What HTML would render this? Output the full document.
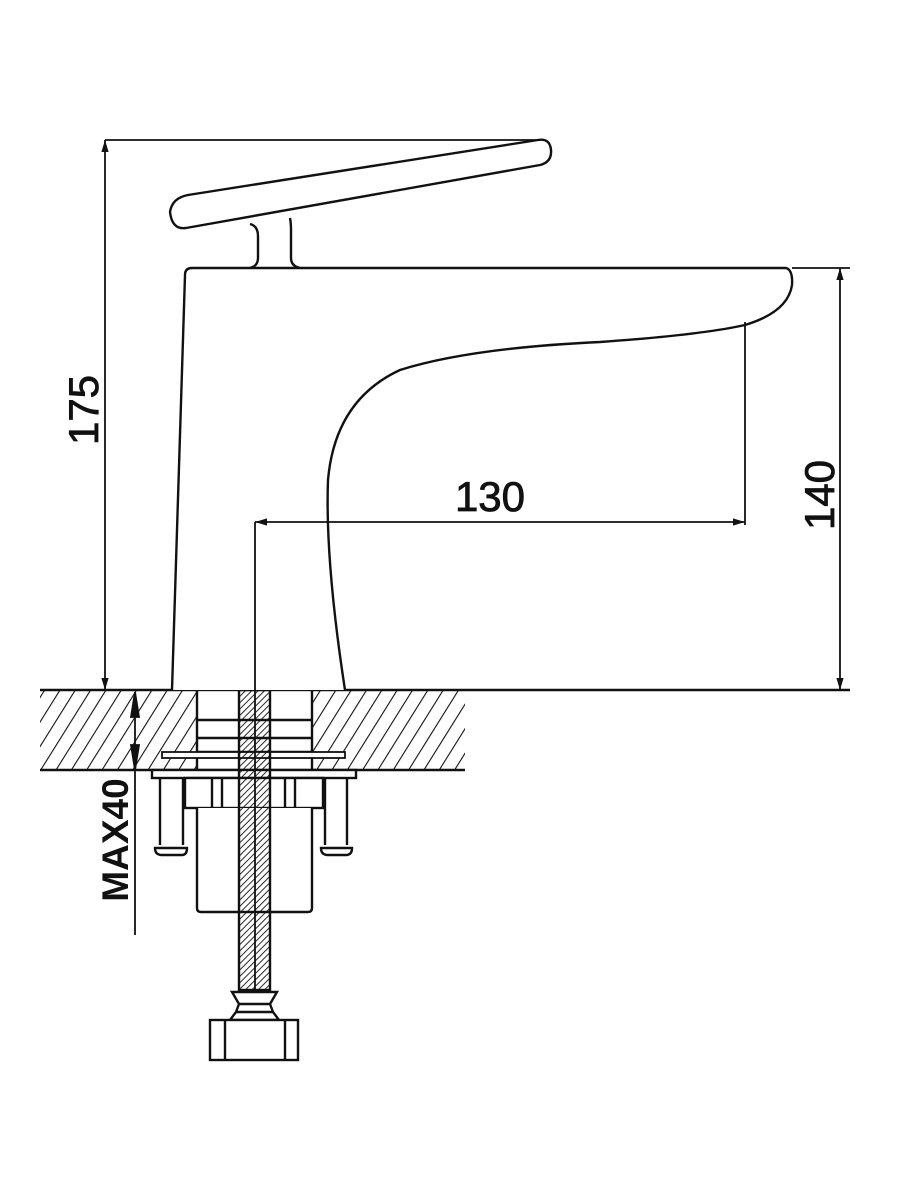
<!DOCTYPE html>
<html><head><style>html,body{margin:0;padding:0;background:#fff}svg{display:block}</style></head><body>
<svg width="900" height="1200" viewBox="0 0 900 1200" xmlns="http://www.w3.org/2000/svg">
<defs>
<pattern id="h" patternUnits="userSpaceOnUse" width="13" height="13" patternTransform="rotate(32)">
<line x1="0" y1="0" x2="0" y2="13" stroke="#111" stroke-width="2.2"/></pattern>
<pattern id="t" patternUnits="userSpaceOnUse" width="4.5" height="4.5" patternTransform="rotate(45)">
<line x1="0" y1="0" x2="0" y2="4.5" stroke="#111" stroke-width="1.8"/></pattern>
<marker id="b" viewBox="0 0 10 10" refX="10" refY="5" markerWidth="24" markerHeight="12" orient="auto-start-reverse" markerUnits="userSpaceOnUse"><path d="M0,2 L10,5 L0,8 Z" fill="#111"/></marker>
</defs>
<g fill="none" stroke="#111" stroke-width="2.4">
<rect x="40" y="690" width="157" height="80" fill="url(#h)" stroke="none"/>
<rect x="312" y="690" width="153" height="80" fill="url(#h)" stroke="none"/>
<line x1="40" y1="690" x2="850" y2="690"/>
<line x1="40" y1="770" x2="465" y2="770"/>
<rect x="197" y="690" width="115" height="80" fill="#fff"/>
<line x1="197" y1="720" x2="312" y2="720"/>
<line x1="197" y1="738" x2="312" y2="738"/>
<line x1="197" y1="752" x2="312" y2="752"/>
<rect x="162" y="752" width="183" height="6" fill="#fff" stroke-width="1.8"/>
<rect x="152" y="770" width="204" height="8" fill="#fff"/>
<path d="M160,778 V845 M183,778 V845 M155,848 Q155,855 162,855 H182 Q187,855 187,848 Z" fill="#fff"/>
<path d="M325,778 V845 M347,778 V845 M321,848 Q321,855 328,855 H346 Q352,855 352,848 Z" fill="#fff"/>
<rect x="185" y="778" width="138" height="30" fill="#fff"/>
<line x1="212" y1="778" x2="212" y2="808"/><line x1="222" y1="778" x2="222" y2="808"/>
<line x1="285" y1="778" x2="285" y2="808"/><line x1="295" y1="778" x2="295" y2="808"/>
<path d="M197,808 V908 Q197,912 201,912 H308 Q312,912 312,908 V808" fill="#fff"/>
<rect x="239" y="690" width="31" height="300" fill="url(#t)"/>
<path d="M232,992 H277 L270,1004 H239 Z M239,1004 L236,1012 H273 L270,1004 M236,1012 L230,1020 H279 L273,1012" fill="#fff"/>
<rect x="210" y="1020" width="88" height="40" fill="#fff"/>
<line x1="225" y1="1020" x2="225" y2="1060"/><line x1="285" y1="1020" x2="285" y2="1060"/>
<path d="M172,690 L185,275 Q185,268 192,268 H786 Q793,270 792,285 Q788,312 745,325 Q700,335 600,342 Q470,348 400,370 Q335,400 328,480 Q325,560 345,690" fill="#fff"/>
<path d="M250,224 Q258,226 258,236 V258 Q258,266 250,268 M290,218 Q291,223 291,230 V258 Q291,266 300,268"/>
<path d="M188,195 L538,140 Q550,138 551,150 Q552,162 540,165 L186,228 Q172,230 170,212 Q172,198 188,195 Z" fill="#fff"/>
<g stroke-width="1.8">
<line x1="105" y1="140" x2="540" y2="140"/>
<line x1="105" y1="140" x2="105" y2="690" marker-start="url(#b)" marker-end="url(#b)"/>
<line x1="792" y1="268" x2="850" y2="268"/>
<line x1="840" y1="268" x2="840" y2="690" marker-start="url(#b)" marker-end="url(#b)"/>
<line x1="745" y1="322" x2="745" y2="525"/>
<line x1="255" y1="522" x2="745" y2="522" marker-start="url(#b)" marker-end="url(#b)"/>
<line x1="255" y1="522" x2="255" y2="990"/>
<line x1="135" y1="692" x2="135" y2="935"/>
<path d="M135,692 l-4,25 h8 Z M135,770 l-4,-25 h8 Z" fill="#111"/>
</g>
</g>
<g font-family="Liberation Sans, sans-serif" fill="#111" stroke="#111" stroke-width="0.8">
<text x="490" y="511" font-size="42" text-anchor="middle">130</text>
<text transform="translate(98,410) rotate(-90)" font-size="42" text-anchor="middle">175</text>
<text transform="translate(834,495) rotate(-90)" font-size="42" text-anchor="middle">140</text>
<text transform="translate(128,840) rotate(-90)" font-size="37" font-weight="bold" text-anchor="middle" stroke-width="0">MAX40</text>
</g>
</svg>
</body></html>
